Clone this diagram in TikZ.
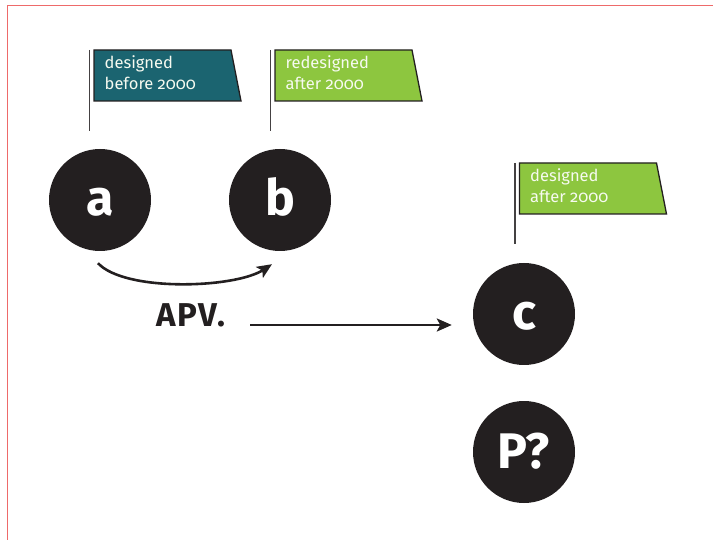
\documentclass[tikz,border=0pt]{standalone}
\usepackage{fontspec}
\setmainfont{Fira Sans}[Numbers=OldStyle]
\usetikzlibrary{calc,arrows.meta}
\definecolor{petrole}{HTML}{1B6470}
\definecolor{vert}{HTML}{8DC63F}
\definecolor{encre}{HTML}{231F20}
\definecolor{cadre}{HTML}{EE6A6A}

\begin{document}
\begin{tikzpicture}[>={Stealth[length=15pt, width=13pt, inset=3.5pt]}, x=1pt, y=-1pt,
    rond/.style={circle, fill=encre, text=white, minimum size=102pt, inner sep=0pt,
        text height=32pt, text depth=0pt, font=\fontsize{50}{50}\selectfont\bfseries},
    drapeau/.style={draw=encre, line width=1.3pt},
    hampe/.style={encre!85, line width=1.6pt},
    legende/.style={text=white!92!vert, align=left, inner sep=0pt, anchor=base west,
        font=\fontsize{16.5}{21}\selectfont},
    fleche/.style={->, encre, line width=2.6pt}]

    \useasboundingbox (0,0) rectangle (713,540);
    % cadre
    \draw[cadre, line width=1pt] (7,540) -- (7,6) -- (713,6);

    % drapeaux
    \foreach \px/\py/\col/\txt [count=\i] in {89.5/50/petrole/{designed\\before 2000},
                                   270.5/50/vert/{redesigned\\after 2000},
                                   515/163/vert/{designed\\after 2000}} {
        \draw[hampe] (\px,\py) -- (\px,\py+81);
        \draw[drapeau, fill=\col] (\px+4.5,\py) -- ++(137,0) -- ++(10,51) -- ++(-147,0) -- cycle;
        \node[legende] (flag\i) at (\px+15,\py+40) {\txt};
    }

    % cercles
    \node[rond] (a) at (100,200) {a};
    \node[rond] (b) at (280,200) {b};
    \node[rond] (c) at (524,314) {c};
    \node[rond] (p) at (524,452) {P?};

    % fleches
    \draw[fleche] ($(a.south)+(-2,12)$) .. controls +(27,29) and +(-37,24) .. ($(b.south)+(-8,13)$);
    \node[anchor=base west, inner sep=0pt, encre, font=\fontsize{33}{33}\selectfont\bfseries\addfontfeatures{LetterSpace=6}] (apv) at (156,327) {APV.};
    \draw[fleche] ($(apv.base east)+(24,-2)$) -- ($(c.west |- apv.base)+(-21,-2)$);
\end{tikzpicture}
\end{document}
